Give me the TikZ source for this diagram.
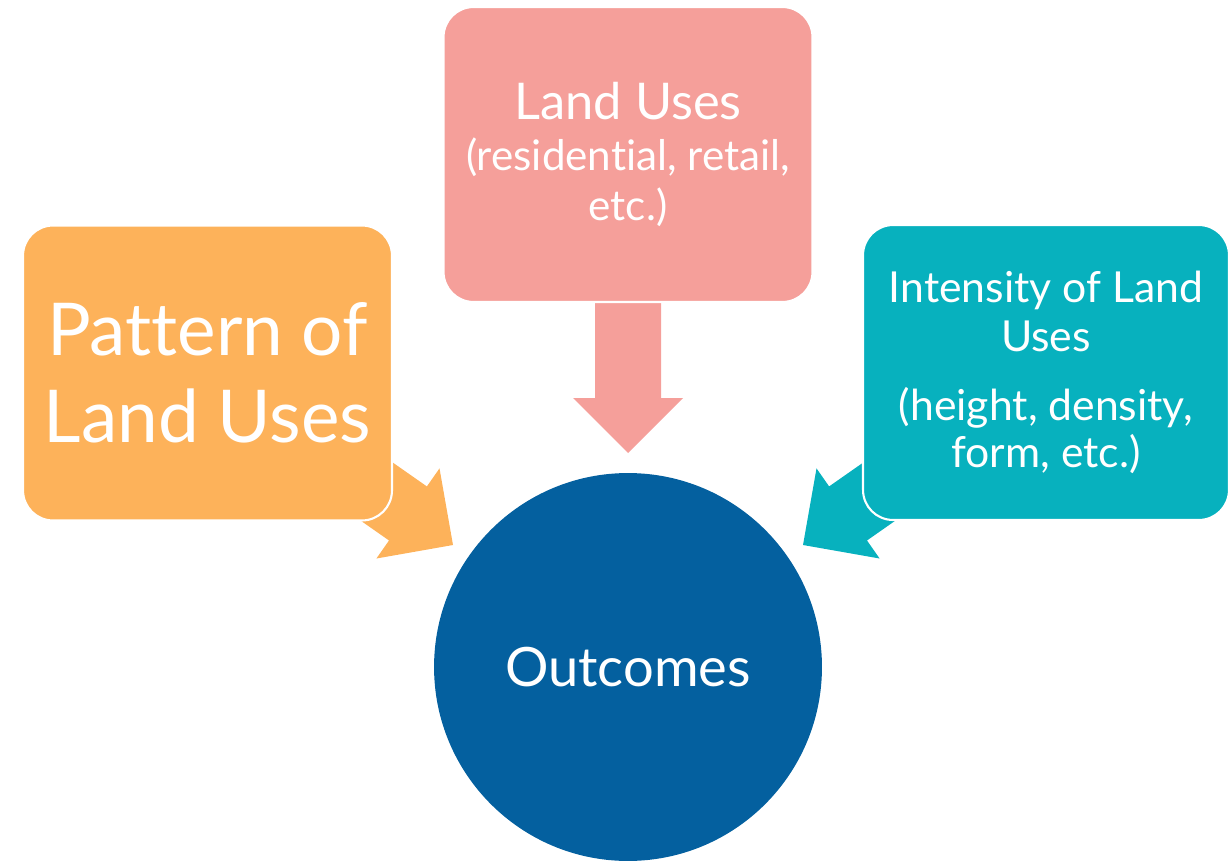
\documentclass[tikz,border=0pt]{standalone}
\usepackage{fontspec}
\setmainfont{Lato}[Ligatures=NoCommon]
\definecolor{cOrange}{HTML}{FDB25A}
\definecolor{cPink}{HTML}{F59F9A}
\definecolor{cTeal}{HTML}{07B1BE}
\definecolor{cBlue}{HTML}{04609F}

\begin{document}
\begin{tikzpicture}[x=0.02cm,y=0.02cm,
        box/.style={rectangle,rounded corners=0.6cm,draw=white,line width=1.2pt,
            text=white,align=center,inner sep=0pt,
            minimum width=7.38cm,minimum height=5.9cm}]
        % 画布
        \useasboundingbox (0,0) rectangle (1229,860);
        % 箭头尖端
        \coordinate (T1) at (628,407);
        \coordinate (T2) at (453,315);
        \coordinate (T3) at (803,315);
        % 三个箭头
        \fill [cPink,shift={(T1)},rotate=-90]
            (0,0) -- (-55,55) -- (-55,33) -- (-150,33) -- (-150,-33) -- (-55,-33) -- (-55,-55) -- cycle;
        \fill [cOrange,shift={(T2)},rotate=-35]
            (0,0) -- (-55,55) -- (-55,33) -- (-150,33) -- (-150,-33) -- (-55,-33) -- (-55,-55) -- cycle;
        \fill [cTeal,shift={(T3)},rotate=-145]
            (0,0) -- (-55,55) -- (-55,33) -- (-150,33) -- (-150,-33) -- (-55,-33) -- (-55,-55) -- cycle;
        % 方框
        \node [box,fill=cOrange,font=\fontsize{41.5}{49.3}\selectfont] (pattern) at (207.5,487)
            {Pattern of\\Land Uses};
        \node [box,fill=cPink,font=\fontsize{24}{28.5}\selectfont] (uses) at (628,705.5)
            {\fontsize{28.8}{28.5}\selectfont Land Uses\\(residential, retail,\\etc.)};
        \node [box,fill=cTeal,minimum width=7.32cm,font=\fontsize{24.3}{27}\selectfont] (intensity) at (1046,487.5)
            {Intensity of Land\\[1pt]Uses\\[12pt](height, density,\\form, etc.)};
        % 结果
        \node [circle,fill=cBlue,text=white,minimum size=7.76cm,inner sep=0pt,
            font=\fontsize{30.9}{31}\selectfont] (out) at (628,193) {Outcomes};
    \end{tikzpicture}
\end{document}
